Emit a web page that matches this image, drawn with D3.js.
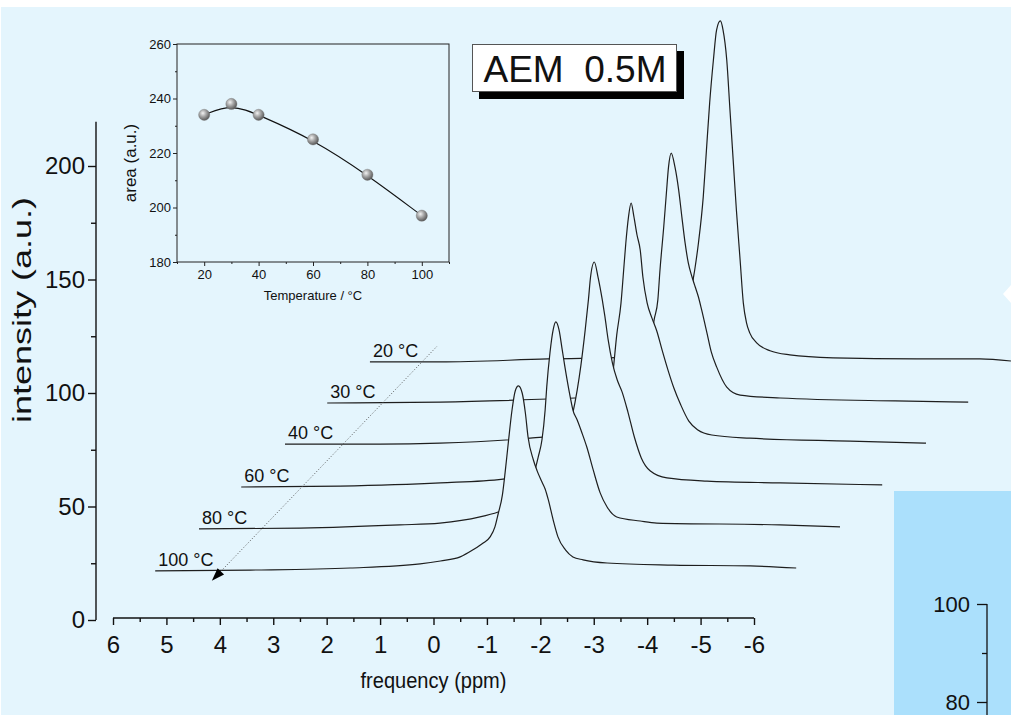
<!DOCTYPE html>
<html><head><meta charset="utf-8">
<script src="https://cdn.jsdelivr.net/npm/d3@7"></script>
<style>
html,body{margin:0;padding:0;background:#fff;}
svg{display:block;font-family:"Liberation Sans",Arial,Helvetica,sans-serif;}
</style></head><body>
<svg id="c" width="1011" height="715"></svg>
<script>
// ---------------- data ----------------
const tempLabels = ["20 °C", "30 °C", "40 °C", "60 °C", "80 °C", "100 °C"];
// waterfall offsets of each trace (ppm along x, intensity along y)
const shiftPpm = [4.81, 4.01, 3.22, 2.40, 1.61, 0.79];
const shiftIntensity = [113.7, 95.6, 77.5, 58.6, 40.1, 21.6];

// spectra: [frequency (ppm, unshifted), intensity above own baseline]
const spec20 = [[6.00,0],[4.69,0],[2.67,1.3],[0.95,2.2],[0.48,3.1],[0.20,5.7],[0.08,11.9],[0.01,22.9],[-0.05,36.1],[-0.08,40.5],[-0.15,52.4],[-0.24,72.7],[-0.30,93.4],[-0.36,114.1],[-0.43,133.0],[-0.49,146.3],[-0.56,150.2],[-0.61,146.3],[-0.68,133.0],[-0.74,111.0],[-0.80,89.0],[-0.86,67.0],[-0.93,44.9],[-0.99,26.0],[-1.05,17.2],[-1.11,12.8],[-1.24,8.4],[-1.49,4.9],[-1.86,3.1],[-2.67,1.8],[-4.24,1.3],[-5.42,1.3],[-6.00,0.4]];
const spec30 = [[6.00,0],[3.88,0.4],[1.36,2.2],[0.42,3.1],[0.18,6.2],[0.05,13.7],[-0.05,24.7],[-0.12,36.6],[-0.19,45.4],[-0.23,58.6],[-0.30,77.5],[-0.35,92.5],[-0.39,104.0],[-0.44,110.1],[-0.51,104.0],[-0.58,93.8],[-0.64,81.9],[-0.70,70.5],[-0.76,61.7],[-0.83,55.5],[-0.89,51.1],[-0.95,46.7],[-1.01,41.0],[-1.11,30.8],[-1.19,22.5],[-1.29,15.9],[-1.48,7.0],[-1.73,3.5],[-2.48,2.2],[-4.63,0.9],[-6.00,0.4]];
const spec40 = [[6.00,0],[4.22,0],[3.10,0.4],[1.41,2.6],[0.48,4.9],[0.10,8.4],[-0.05,17.2],[-0.14,31.7],[-0.21,48.0],[-0.29,62.1],[-0.33,73.6],[-0.38,88.5],[-0.43,100.0],[-0.48,106.2],[-0.53,100.4],[-0.59,92.1],[-0.65,85.5],[-0.70,73.6],[-0.78,62.1],[-0.87,55.5],[-0.96,49.8],[-1.06,41.4],[-1.17,32.6],[-1.28,24.7],[-1.41,17.2],[-1.56,10.1],[-1.73,6.2],[-1.99,4.0],[-2.70,2.6],[-4.58,1.3],[-6.00,0.4]];
const spec60 = [[6.00,0],[4.15,0.4],[2.27,1.8],[1.10,3.5],[0.40,6.6],[0.12,11.0],[-0.07,20.7],[-0.20,31.7],[-0.29,42.7],[-0.36,53.7],[-0.44,69.2],[-0.50,82.4],[-0.54,92.5],[-0.61,99.1],[-0.68,92.5],[-0.76,82.4],[-0.81,74.9],[-0.87,64.8],[-0.95,54.6],[-1.04,47.1],[-1.13,41.9],[-1.24,33.0],[-1.36,22.0],[-1.49,12.8],[-1.66,7.0],[-1.97,4.0],[-2.72,2.6],[-4.09,1.8],[-6.00,0.9]];
const spec80 = [[6.00,0],[4.11,0.4],[2.24,1.8],[1.49,2.6],[0.74,5.3],[0.40,7.5],[0.08,10.6],[-0.14,15.0],[-0.25,22.5],[-0.35,31.7],[-0.42,39.2],[-0.48,52.4],[-0.51,62.6],[-0.57,77.5],[-0.63,87.7],[-0.68,91.2],[-0.74,87.7],[-0.80,78.9],[-0.85,71.4],[-0.95,58.1],[-1.00,52.4],[-1.08,48.0],[-1.17,42.3],[-1.26,36.1],[-1.38,26.0],[-1.51,15.9],[-1.64,9.7],[-1.82,5.3],[-2.26,3.5],[-2.57,2.6],[-4.88,1.8],[-6.00,0.9]];
const spec100 = [[6.00,0],[4.22,0.4],[2.35,1.3],[1.04,3.1],[0.66,4.4],[0.29,6.2],[0.05,9.3],[-0.14,12.3],[-0.27,15.0],[-0.36,19.4],[-0.42,25.1],[-0.50,33.5],[-0.55,43.2],[-0.61,56.4],[-0.68,70.9],[-0.74,79.3],[-0.80,81.5],[-0.87,78.4],[-0.93,69.6],[-0.98,59.0],[-1.08,48.9],[-1.15,44.1],[-1.23,39.7],[-1.30,36.1],[-1.36,31.3],[-1.45,22.5],[-1.54,15.0],[-1.68,9.3],[-1.82,6.2],[-2.01,4.9],[-2.46,3.5],[-3.70,2.6],[-5.14,2.2],[-6.00,1.3]];
const spectra = [spec20, spec30, spec40, spec60, spec80, spec100];

const freqTicks = [6,5,4,3,2,1,0,-1,-2,-3,-4,-5,-6];
const freqMinor = [5.5,4.5,3.5,2.5,1.5,0.5,-0.5,-1.5,-2.5,-3.5,-4.5,-5.5];
const intensityTicks = [0,50,100,150,200];
const intensityMinor = [25,75,125,175];
// temperature direction arrow (in axis units: ppm, intensity)
const tempArrowTip = [4.15, 17.3];
const tempArrowEnd = [-0.07, 120.7];

// inset
const insetTemp = [20,30,40,60,80,100];
const insetArea = [234,238,234,225,212,197];
const insetXTicks = [20,40,60,80,100];
const insetXMinor = [10,30,50,70,90,110];
const insetYTicks = [180,200,220,240,260];
const insetYMinor = [190,210,230,250];

const titleText = "AEM  0.5M";
const panelTicks = [80,100];
const panelMinor = [90];

// ---------------- drawing ----------------
const BG = "#e4f5fd";
const FONT = "Liberation Sans, Arial, sans-serif";
const svg = d3.select("#c");
svg.append("rect").attr("x",1).attr("y",7).attr("width",1010).attr("height",708).attr("fill",BG);

const defs = svg.append("defs");
const g0 = defs.append("radialGradient").attr("id","ball").attr("cx","38%").attr("cy","35%").attr("r","65%");
g0.append("stop").attr("offset","0%").attr("stop-color","#f2f2f2");
g0.append("stop").attr("offset","45%").attr("stop-color","#a9a9a9");
g0.append("stop").attr("offset","100%").attr("stop-color","#5a5a5a");

const x = d3.scaleLinear().domain([6,-6]).range([113,754]);
const y = d3.scaleLinear().domain([0,200]).range([620,166]);

// traces, back to front, filled with background for hidden-line effect
const tr = svg.append("g");
spectra.forEach((s,i) => {
  const dx = shiftPpm[i], dy = shiftIntensity[i];
  const area = d3.area()
    .x(d => x(d[0] - dx))
    .y0(y(0) - 2)
    .y1(d => y(d[1] + dy))
    .curve(d3.curveMonotoneX);
  const line = d3.line()
    .x(d => x(d[0] - dx))
    .y(d => y(d[1] + dy))
    .curve(d3.curveMonotoneX);
  tr.append("path").attr("d", area(s)).attr("fill", BG).attr("stroke","none");
  tr.append("path").attr("d", line(s)).attr("fill","none").attr("stroke","#1e1e1e").attr("stroke-width",1.2);
});

// bottom-right panel (fragment of neighbouring figure)
svg.append("rect").attr("x",894).attr("y",491).attr("width",117).attr("height",224).attr("fill","#abe0fc");
const py = d3.scaleLinear().domain([80,100]).range([702,604]);
const pg = svg.append("g").attr("transform","translate(987,0)");
pg.append("line").attr("x1",0).attr("x2",0).attr("y1",py(100)).attr("y2",715).attr("stroke","#111").attr("stroke-width",1.3);
pg.append("g").call(d3.axisLeft(py).tickValues(panelTicks).tickSize(10).tickPadding(7).tickFormat(d=>String(d)))
  .call(gg=>gg.select(".domain").remove())
  .call(gg=>gg.selectAll("text").attr("font-size",22).attr("fill","#111").attr("font-family",FONT))
  .call(gg=>gg.selectAll("line").attr("stroke","#111").attr("stroke-width",1.3));
pg.append("g").call(d3.axisLeft(py).tickValues(panelMinor).tickSize(5).tickFormat(""))
  .call(gg=>gg.select(".domain").remove()).call(gg=>gg.selectAll("line").attr("stroke","#111").attr("stroke-width",1.3));
// small white shape at the right edge
svg.append("path").attr("d","M1011,285 L1003,294 L1011,303 Z").attr("fill","#fff");

// temperature arrow (dotted) with arrowhead
const tip = [x(tempArrowTip[0]), y(tempArrowTip[1])];
const end = [x(tempArrowEnd[0]), y(tempArrowEnd[1])];
const ang = Math.atan2(end[1]-tip[1], end[0]-tip[0]);
const L = 13, W = 4.5;
const base = [tip[0] + L*Math.cos(ang), tip[1] + L*Math.sin(ang)];
svg.append("line").attr("x1",base[0]).attr("y1",base[1]).attr("x2",end[0]).attr("y2",end[1])
  .attr("stroke","#555").attr("stroke-width",1).attr("stroke-dasharray","1,2");
svg.append("path").attr("d",
  `M${tip[0]},${tip[1]} L${base[0]-W*Math.sin(ang)},${base[1]+W*Math.cos(ang)} L${base[0]+W*Math.sin(ang)},${base[1]-W*Math.cos(ang)} Z`)
  .attr("fill","#000");

// trace labels
tempLabels.forEach((t,i) => {
  svg.append("text").attr("x", x(6 - shiftPpm[i]) + 3).attr("y", y(shiftIntensity[i]) - 5)
    .attr("font-size",18).attr("fill","#111").text(t);
});

// main axes
const ax = svg.append("g");
ax.append("line").attr("x1",96).attr("x2",96).attr("y1",y(0)).attr("y2",y(219.5)).attr("stroke","#111").attr("stroke-width",1.4);
ax.append("g").attr("transform","translate(96,0)")
  .call(d3.axisLeft(y).tickValues(intensityTicks).tickSize(8).tickPadding(3).tickFormat(d=>String(d)))
  .call(g=>g.select(".domain").remove())
  .call(g=>g.selectAll("text").attr("font-size",24).attr("fill","#111").attr("font-family",FONT))
  .call(g=>g.selectAll("line").attr("stroke","#111").attr("stroke-width",1.4));
ax.append("g").attr("transform","translate(96,0)")
  .call(d3.axisLeft(y).tickValues(intensityMinor).tickSize(5).tickFormat(""))
  .call(g=>g.select(".domain").remove())
  .call(g=>g.selectAll("line").attr("stroke","#111").attr("stroke-width",1.4));

ax.append("line").attr("x1",x(6)).attr("x2",x(-6)).attr("y1",618).attr("y2",618).attr("stroke","#111").attr("stroke-width",1.4);
ax.append("g").attr("transform","translate(0,618)")
  .call(d3.axisBottom(x).tickValues(freqTicks).tickSize(7).tickPadding(11).tickFormat(d=>String(d)))
  .call(g=>g.select(".domain").remove())
  .call(g=>g.selectAll("text").attr("font-size",24).attr("fill","#111").attr("font-family",FONT))
  .call(g=>g.selectAll("line").attr("stroke","#111").attr("stroke-width",1.4));
ax.append("g").attr("transform","translate(0,618)")
  .call(d3.axisBottom(x).tickValues(freqMinor).tickSize(4).tickFormat(""))
  .call(g=>g.select(".domain").remove())
  .call(g=>g.selectAll("line").attr("stroke","#111").attr("stroke-width",1.4));

svg.append("text").attr("x", x(0)).attr("y", 688).attr("text-anchor","middle")
  .attr("font-size",22).attr("textLength",146).attr("lengthAdjust","spacingAndGlyphs")
  .attr("fill","#111").text("frequency (ppm)");
svg.append("text").attr("transform","translate(31,310) rotate(-90)").attr("text-anchor","middle")
  .attr("font-size",25).attr("textLength",226).attr("lengthAdjust","spacingAndGlyphs")
  .attr("fill","#111").text("intensity (a.u.)");

// ---------------- inset ----------------
const ix = d3.scaleLinear().domain([10,110]).range([177,449]);
const iy = d3.scaleLinear().domain([180,260]).range([262,44]);
const ins = svg.append("g");
ins.append("rect").attr("x",ix(10)).attr("y",iy(260)).attr("width",ix(110)-ix(10)).attr("height",iy(180)-iy(260))
  .attr("fill","none").attr("stroke","#222").attr("stroke-width",1);
ins.append("g").attr("transform",`translate(0,${iy(180)})`)
  .call(d3.axisBottom(ix).tickValues(insetXTicks).tickSize(4).tickPadding(4).tickFormat(d=>String(d)))
  .call(g=>g.select(".domain").remove())
  .call(g=>g.selectAll("text").attr("font-size",13).attr("fill","#111").attr("font-family",FONT))
  .call(g=>g.selectAll("line").attr("stroke","#222"));
ins.append("g").attr("transform",`translate(0,${iy(180)})`)
  .call(d3.axisBottom(ix).tickValues(insetXMinor).tickSize(2).tickFormat(""))
  .call(g=>g.select(".domain").remove()).call(g=>g.selectAll("line").attr("stroke","#222"));
ins.append("g").attr("transform",`translate(${ix(10)},0)`)
  .call(d3.axisLeft(iy).tickValues(insetYTicks).tickSize(4).tickPadding(2).tickFormat(d=>String(d)))
  .call(g=>g.select(".domain").remove())
  .call(g=>g.selectAll("text").attr("font-size",13).attr("fill","#111").attr("font-family",FONT))
  .call(g=>g.selectAll("line").attr("stroke","#222"));
ins.append("g").attr("transform",`translate(${ix(10)},0)`)
  .call(d3.axisLeft(iy).tickValues(insetYMinor).tickSize(2).tickFormat(""))
  .call(g=>g.select(".domain").remove()).call(g=>g.selectAll("line").attr("stroke","#222"));

const pts = insetTemp.map((t,i)=>[t, insetArea[i]]);
ins.append("path").attr("d", d3.line().x(d=>ix(d[0])).y(d=>iy(d[1])).curve(d3.curveBasis)(pts))
  .attr("fill","none").attr("stroke","#111").attr("stroke-width",1.1);
ins.selectAll("circle").data(pts).join("circle")
  .attr("cx",d=>ix(d[0])).attr("cy",d=>iy(d[1])).attr("r",5.6).attr("fill","url(#ball)").attr("stroke","#777").attr("stroke-width",0.4);
ins.append("text").attr("x",(ix(10)+ix(110))/2).attr("y",300).attr("text-anchor","middle")
  .attr("font-size",13).attr("fill","#111").text("Temperature / °C");
ins.append("text").attr("transform","translate(136,163) rotate(-90)").attr("text-anchor","middle")
  .attr("font-size",17).attr("fill","#111").text("area (a.u.)");

// ---------------- title box ----------------
svg.append("rect").attr("x",479).attr("y",51).attr("width",205).attr("height",48).attr("fill","#000");
svg.append("rect").attr("x",472.5).attr("y",44.5).attr("width",204).attr("height",47).attr("fill","#fff").attr("stroke","#555").attr("stroke-width",1);
svg.append("text").attr("x",575).attr("y",82).attr("text-anchor","middle").attr("font-size",37)
  .attr("fill","#111").style("white-space","pre").text(titleText);
</script>
</body></html>
